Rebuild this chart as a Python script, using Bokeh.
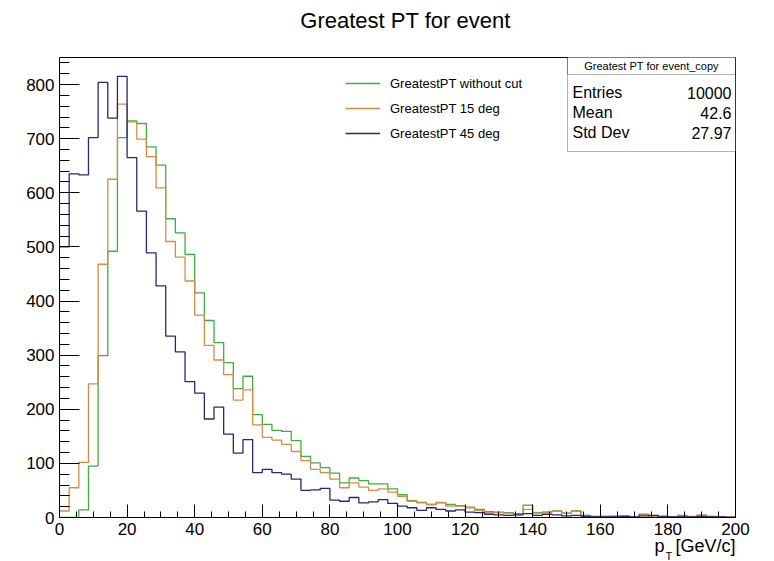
from bokeh.plotting import figure
from bokeh.models import Range1d, FixedTicker, Label, Legend, LegendItem, BoxAnnotation
from bokeh.embed import file_html
from bokeh.resources import INLINE

# ---------------- data ----------------
n_bins = 70
x_min, x_max = 0.0, 200.0

green_without_cut = [0, 0, 14, 95, 299, 492, 702, 733, 728, 685,
                     651, 552, 526, 486, 415, 364, 323, 286, 238, 261,
                     190, 172, 161, 159, 142, 113, 101, 92, 82, 64,
                     73, 68, 62, 62, 53, 42, 31, 28, 24, 27,
                     24, 22, 19, 15, 11, 10, 9, 7, 23, 9,
                     10, 12, 8, 12, 4, 2, 2, 1, 3, 1,
                     6, 3, 2, 1, 4, 1, 3, 2, 1, 1]

orange_15deg = [12, 55, 102, 247, 468, 625, 764, 731, 699, 667,
                609, 510, 481, 437, 374, 318, 291, 264, 217, 236,
                171, 148, 143, 135, 122, 105, 89, 83, 71, 55,
                64, 56, 50, 53, 47, 39, 30, 27, 24, 28,
                21, 21, 18, 13, 9, 9, 8, 6, 15, 8,
                10, 12, 8, 12, 4, 2, 2, 3, 2, 1,
                5, 2, 3, 1, 2, 2, 5, 2, 1, 1]

blue_45deg = [500, 635, 633, 702, 804, 738, 815, 665, 566, 489,
              428, 335, 306, 251, 230, 182, 204, 154, 119, 144,
              83, 89, 83, 80, 71, 50, 51, 54, 32, 30,
              37, 27, 29, 33, 26, 21, 18, 13, 18, 15,
              12, 14, 10, 9, 6, 5, 4, 5, 7, 4,
              6, 5, 3, 4, 2, 1, 1, 1, 2, 1,
              3, 4, 1, 1, 1, 1, 2, 1, 1, 0]

series_labels = ["GreatestPT without cut", "GreatestPT 15 deg", "GreatestPT 45 deg"]
series_colors = ["#3fae3f", "#d98b45", "#26267f"]

y_ticks = list(range(0, 801, 100))
y_minor = list(range(0, 841, 20))
x_ticks = list(range(0, 201, 20))
x_minor = list(range(0, 201, 5))

plot_title = "Greatest PT for event"
stats_title = "Greatest PT for event_copy"
stats_names = ["Entries", "Mean", "Std Dev"]
stats_values = ["10000", "42.6", "27.97"]

# ---------------- figure ----------------
FONT = "Liberation Sans"
W, H = 774, 561
FL, FR, FT, FB = 59, 735, 57, 517   # frame edges in page pixels
p = figure(width=W, height=H, output_backend="svg", toolbar_location=None,
           x_range=Range1d(x_min, x_max), y_range=Range1d(0, 850),
           min_border_left=FL, min_border_right=W - FR, min_border_top=FT, min_border_bottom=H - FB)
p.background_fill_color = "white"
p.border_fill_color = "white"
p.outline_line_color = "black"
p.outline_line_width = 1
p.grid.visible = False

for ax in (p.xaxis[0], p.yaxis[0]):
    ax.axis_line_color = "black"
    ax.major_tick_line_color = "black"
    ax.minor_tick_line_color = "black"
    ax.major_tick_out = 0
    ax.minor_tick_out = 0
    ax.major_label_text_font = FONT
    ax.major_label_text_font_size = "17px"
    ax.major_label_text_color = "black"
    ax.major_label_standoff = 5

p.xaxis[0].ticker = FixedTicker(ticks=x_ticks, minor_ticks=x_minor)
p.yaxis[0].ticker = FixedTicker(ticks=y_ticks, minor_ticks=y_minor)
p.xaxis[0].major_tick_in = 13
p.xaxis[0].minor_tick_in = 6
p.yaxis[0].major_tick_in = 20
p.yaxis[0].minor_tick_in = 10

bw = (x_max - x_min) / n_bins
edges = [x_min + i * bw for i in range(n_bins + 1)]

renderers = []
for vals, col in zip([green_without_cut, orange_15deg, blue_45deg], series_colors):
    ys = list(vals) + [vals[-1]]
    r = p.step(x=edges, y=ys, mode="after", line_color=col, line_width=1.3)
    renderers.append(r)

legend = Legend(items=[LegendItem(label=l, renderers=[r]) for l, r in zip(series_labels, renderers)],
                location=(286, 373), orientation="vertical",
                label_text_font=FONT, label_text_font_size="13px", label_text_color="black",
                glyph_width=35, glyph_height=22, label_height=22, spacing=3,
                padding=0, margin=0, label_standoff=10,
                background_fill_alpha=0, border_line_alpha=0)
p.add_layout(legend)

# ---------------- helpers: page pixel -> data ----------------
def xd(px):
    return (px - FL) * (x_max - x_min) / (FR - FL)

def yd(py):
    return (FB - py) * 850.0 / (FB - FT)

# ---------------- stats box ----------------
p.add_layout(BoxAnnotation(left=xd(567), right=xd(735), top=yd(56), bottom=yd(151),
                           fill_color="white", fill_alpha=1, line_color="black", line_width=1))
p.add_layout(BoxAnnotation(left=xd(567), right=xd(735), top=yd(56), bottom=yd(74),
                           fill_alpha=0, line_color="black", line_width=1))
p.add_layout(Label(x=xd(651), y=yd(65), text=stats_title, text_align="center", text_baseline="middle",
                   text_font=FONT, text_font_size="11px", text_color="black"))
for name, val, py in zip(stats_names, stats_values, [92, 112, 132]):
    p.add_layout(Label(x=xd(572), y=yd(py), text=name, text_align="left", text_baseline="middle",
                       text_font=FONT, text_font_size="16px", text_color="black"))
    p.add_layout(Label(x=xd(731), y=yd(py), text=val, text_align="right", text_baseline="middle",
                       text_font=FONT, text_font_size="16px", text_color="black"))

# ---------------- title and axis title, placed in side panels ----------------
p.add_layout(Label(x=xd(405), y=yd(20), text=plot_title,
                   text_align="center", text_baseline="middle",
                   text_font=FONT, text_font_size="22px", text_color="black"), "above")
p.add_layout(Label(x=xd(735), y=yd(545), text="[GeV/c]",
                   text_align="right", text_baseline="middle",
                   text_font=FONT, text_font_size="18px", text_color="black"), "below")
p.add_layout(Label(x=xd(664), y=yd(545), text="p",
                   text_align="right", text_baseline="middle",
                   text_font=FONT, text_font_size="18px", text_color="black"), "left")
p.add_layout(Label(x=xd(665), y=yd(555), text="T",
                   text_align="left", text_baseline="middle",
                   text_font=FONT, text_font_size="11px", text_color="black"), "left")

open("out.html", "w").write(file_html(p, INLINE))
